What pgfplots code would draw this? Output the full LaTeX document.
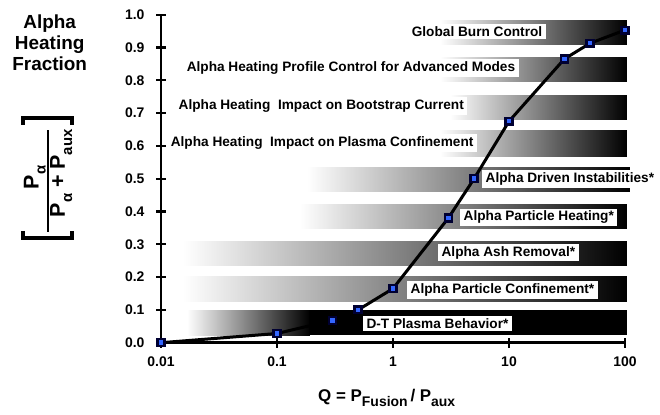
\documentclass[border=0pt]{standalone}
\usepackage{pgfplots}
\pgfplotsset{compat=1.18}
\usepackage{fontspec}
\setmainfont{Liberation Sans}

\definecolor{mkfill}{RGB}{51,102,255}
\definecolor{mkedge}{RGB}{0,0,50}

\newcommand{\lab}{\fontsize{13.7}{15}\selectfont\bfseries}
\newcommand{\ylab}{\fontsize{21.5}{23}\selectfont\bfseries}
\newcommand{\sub}[1]{\raisebox{-0.33em}{\fontsize{15}{16}\selectfont #1}}

\begin{document}
\begin{tikzpicture}
\path[use as bounding box] (-161bp,-72.3bp) rectangle (499bp,342.7bp);
\begin{axis}[
	scale only axis, width=464bp, height=328bp,
	xmode=log, xmin=0.01, xmax=100, ymin=0, ymax=1,
	clip=false,
	axis x line=bottom, axis y line=left,
	axis line style={-, line width=2.6bp},
	xtick={0.01,0.1,1,10,100},
	xticklabels={0.01,0.1,1,10,100},
	ytick={0,0.1,0.2,0.3,0.4,0.5,0.6,0.7,0.8,0.9,1},
	yticklabels={0.0,0.1,0.2,0.3,0.4,0.5,0.6,0.7,0.8,0.9,1.0},
	xminorticks=false,
	tick align=center, major tick length=10bp,
	tick style={black, line width=2.2bp},
	tick label style={font=\fontsize{14}{15}\selectfont\bfseries},
	xticklabel style={yshift=-6bp},
	yticklabel style={xshift=-8bp},
	]
	% gradient bands, white on the left to black on the right
	\addplot[draw=none, left color=white, right color=black] coordinates {(0.0167,0.023) (0.192,0.023) (0.192,0.099) (0.0167,0.099)} -- cycle;
	\addplot[draw=none, fill=black] coordinates {(0.19,0.023) (104,0.023) (104,0.099) (0.19,0.099)} -- cycle;
	\addplot[draw=none, left color=white, right color=black] coordinates {(0.0155,0.127) (104,0.127) (104,0.203) (0.0155,0.203)} -- cycle;
	\addplot[draw=none, left color=white, right color=black] coordinates {(0.0155,0.234) (104,0.234) (104,0.308) (0.0155,0.308)} -- cycle;
	\addplot[draw=none, left color=white, right color=black] coordinates {(0.158,0.349) (104,0.349) (104,0.422) (0.158,0.422)} -- cycle;
	\addplot[draw=none, left color=white, right color=black] coordinates {(0.182,0.462) (110,0.462) (110,0.535) (0.182,0.535)} -- cycle;
	\addplot[draw=none, left color=white, right color=black] coordinates {(2.54,0.569) (104,0.569) (104,0.648) (2.54,0.648)} -- cycle;
	\addplot[draw=none, left color=white, right color=black] coordinates {(3.1,0.682) (104,0.682) (104,0.755) (3.1,0.755)} -- cycle;
	\addplot[draw=none, left color=white, right color=black] coordinates {(2.54,0.796) (104,0.796) (104,0.869) (2.54,0.869)} -- cycle;
	\addplot[draw=none, left color=white, right color=black] coordinates {(2.54,0.910) (104,0.910) (104,0.983) (2.54,0.983)} -- cycle;

	% labels in white boxes
	\tikzset{lbl/.style={fill=white, anchor=west, inner xsep=3.5bp, inner ysep=2.5bp, font=\lab}}
	\node[lbl] at (axis cs:1.35,0.948) {Global Burn Control};
	\node[lbl] at (axis cs:0.0155,0.8375) {Alpha Heating Profile Control for Advanced Modes};
	\node[lbl] at (axis cs:0.0132,0.7216) {Alpha Heating\ \ Impact on Bootstrap Current};
	\node[lbl] at (axis cs:0.0113,0.610) {Alpha Heating\ \ Impact on Plasma Confinement};
	\node[lbl] at (axis cs:5.85,0.499) {Alpha Driven Instabilities*};
	\node[lbl] at (axis cs:3.78,0.382) {Alpha Particle Heating*};
	\node[lbl] at (axis cs:2.44,0.275) {Alpha Ash Removal*};
	\node[lbl] at (axis cs:1.32,0.161) {Alpha Particle Confinement*};
	\node[lbl] at (axis cs:0.55,0.0585) {D-T Plasma Behavior*};

	% alpha heating fraction versus Q
	\addplot[black, line width=3bp, mark=square*, mark size=3.4bp,
		mark options={solid, fill=mkfill, draw=mkedge, line width=2.4bp}] coordinates {
			(0.01, 0)
			(0.1, 0.028)
			(0.3, 0.068)
			(0.5, 0.1)
			(1, 0.165)
			(3, 0.38)
			(5, 0.5)
			(10, 0.675)
			(30, 0.865)
			(50, 0.913)
			(100, 0.953)
		};
\end{axis}

% title on the left
\node[anchor=base, font=\fontsize{19}{21}\selectfont\bfseries, inner sep=0] at (-111.3bp,314.2bp) {Alpha};
\node[anchor=base, font=\fontsize{19}{21}\selectfont\bfseries, inner sep=0] at (-111.3bp,293.1bp) {Heating};
\node[anchor=base, font=\fontsize{19}{21}\selectfont\bfseries, inner sep=0] at (-111.3bp,272.0bp) {Fraction};

% bracketed fraction, turned on its side
\begin{scope}[shift={(-113bp,164.7bp)}, rotate=90, transform shape]
	\draw[line width=1.6bp] (-53.7bp,0) -- (48bp,0);
	\node[anchor=south, inner sep=1bp, font=\ylab] at (0.5bp,1bp) {P\sub{α}};
	\node[anchor=north, inner sep=1bp, font=\ylab] at (4.7bp,-1bp) {P\sub{α} + P\sub{aux}};
	\draw[line width=3.4bp] (-53bp,25bp) -- (-60bp,25bp) -- (-60bp,-24bp) -- (-53bp,-24bp);
	\draw[line width=3.4bp] (53bp,25bp) -- (60bp,25bp) -- (60bp,-24bp) -- (53bp,-24bp);
\end{scope}

% x label
\node[anchor=base west, font=\fontsize{17}{20}\selectfont\bfseries, inner sep=0] at (157bp,-59bp)
	{Q = P\raisebox{-0.3em}{\fontsize{14}{15}\selectfont Fusion}\,/ P\raisebox{-0.3em}{\fontsize{14}{15}\selectfont aux}};
\end{tikzpicture}
\end{document}
